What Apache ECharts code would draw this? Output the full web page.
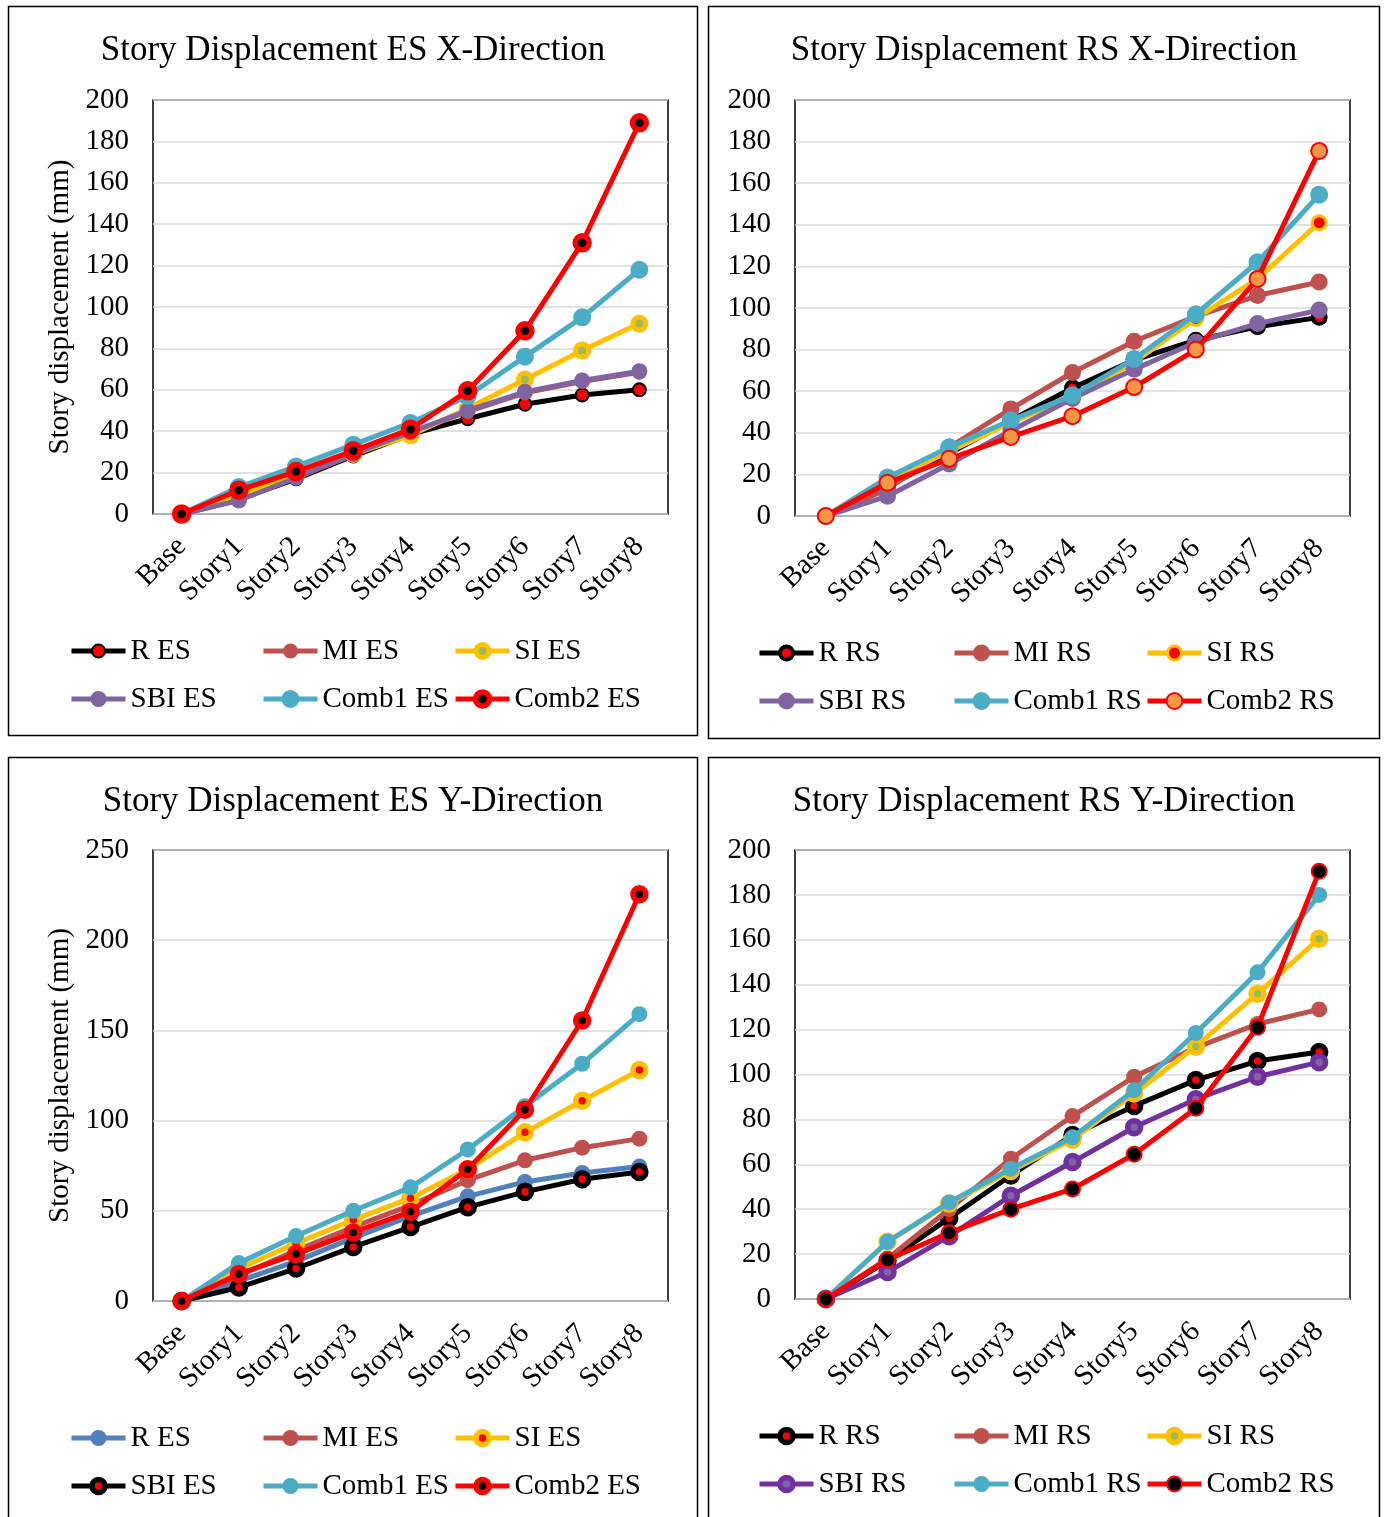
<!DOCTYPE html>
<html><head><meta charset="utf-8">
<script src="https://cdn.jsdelivr.net/npm/echarts@6/dist/echarts.min.js"></script>
<style>html,body{margin:0;padding:0;background:#fff;}.c{position:absolute;left:0;top:0;width:1384px;height:1517px;}</style>
</head><body>
<div id="c1" class="c"></div><div id="c2" class="c"></div><div id="c3" class="c"></div><div id="c4" class="c"></div>
<script>
// ---- data ----
const categories = ['Base','Story1','Story2','Story3','Story4','Story5','Story6','Story7','Story8'];

// Story Displacement ES X-Direction
const R_ES_X     = [0, 7, 17, 28, 38.5, 46, 53, 57.5, 60];
const MI_ES_X    = [0, 7.5, 17.5, 28.5, 39, 49.5, 58.5, 64, 68.5];
const SI_ES_X    = [0, 9, 19, 29, 38, 51, 65, 79, 92];
const SBI_ES_X   = [0, 6.5, 17.5, 29, 39.5, 50, 59, 64.5, 69];
const Comb1_ES_X = [0, 13, 23, 33.5, 44, 57, 76, 95, 118];
const Comb2_ES_X = [0, 11.5, 20.5, 30.5, 41, 59.5, 88.5, 131, 189];

// Story Displacement RS X-Direction
const R_RS_X     = [0, 14, 30, 46, 61.5, 75, 84.5, 91, 95.5];
const MI_RS_X    = [0, 13, 33, 51.5, 69, 84, 96, 106, 112.5];
const SI_RS_X    = [0, 17, 31, 45, 57, 74, 95, 114, 141];
const SBI_RS_X   = [0, 9.5, 25, 41, 56.5, 70.5, 83.5, 92.5, 99];
const Comb1_RS_X = [0, 18.5, 33, 46, 58, 75.5, 97, 122, 154.5];
const Comb2_RS_X = [0, 16, 27.5, 38, 48, 62, 80, 114, 175.5];

// Story Displacement ES Y-Direction
const R_ES_Y     = [0, 11, 22, 35, 47, 58, 66, 71, 74.5];
const MI_ES_Y    = [0, 14, 28, 41, 53, 67, 78, 85, 90];
const SI_ES_Y    = [0, 18, 32, 45, 57, 73, 93.5, 111, 128];
const SBI_ES_Y   = [0, 7.5, 18, 30, 41, 52, 60.5, 67.5, 71.5];
const Comb1_ES_Y = [0, 21, 36, 50, 63, 84, 108, 131.5, 159];
const Comb2_ES_Y = [0, 15, 26, 38, 49.5, 73, 106, 155.5, 225.5];

// Story Displacement RS Y-Direction
const R_RS_Y     = [0, 17, 36, 55, 73, 86, 97.5, 106, 110];
const MI_RS_Y    = [0, 18, 40, 62.5, 81.5, 99, 112, 122.5, 129];
const SI_RS_Y    = [0, 25.5, 42.5, 57, 71, 91.5, 112.5, 136, 160.5];
const SBI_RS_Y   = [0, 12, 28, 46, 61, 76.5, 89, 99, 105.5];
const Comb1_RS_Y = [0, 25.5, 43, 58, 72, 93, 118.5, 145.5, 180];
const Comb2_RS_Y = [0, 17.5, 29.5, 40, 49, 64.5, 85, 121, 190.5];

// ---- styles ----
const FONT = 'Liberation Serif';
const FS = 29;
const LW = 5;
function st(line, fill, stroke, bw, size) { return {line, fill, stroke, bw, size}; }

const panels = [
  { id:'c1', title:'Story Displacement ES X-Direction', tx:348, ttop:28,
    grid:{left:153, top:100, width:515, height:414}, max:200, interval:20, yName:'Story displacement (mm)',
    box:[8.5,6.5,689,729], cols:[69,261,453], rows:[651,699],
    series:[
      ['R ES', R_ES_X, st('#000000','#FF0000','#000000',2,13)],
      ['MI ES', MI_ES_X, st('#C0504D','#C0504D',null,0,15)],
      ['SI ES', SI_ES_X, st('#FFC000','#9BBB59','#FFC000',5,13)],
      ['SBI ES', SBI_ES_X, st('#8064A2','#8064A2',null,0,16)],
      ['Comb1 ES', Comb1_ES_X, st('#4BACC6','#4BACC6',null,0,18)],
      ['Comb2 ES', Comb2_ES_X, st('#FF0000','#000000','#FF0000',5.5,14)]
    ]},
  { id:'c2', title:'Story Displacement RS X-Direction', tx:1039, ttop:28,
    grid:{left:795, top:100, width:555, height:416}, max:200, interval:20, yName:'',
    box:[708.5,6.5,671,732], cols:[757,952,1145], rows:[653,701],
    series:[
      ['R RS', R_RS_X, st('#000000','#FF0000','#000000',4,13)],
      ['MI RS', MI_RS_X, st('#C0504D','#C0504D',null,0,17)],
      ['SI RS', SI_RS_X, st('#FFC000','#FF0000','#FFC000',3,14)],
      ['SBI RS', SBI_RS_X, st('#8064A2','#8064A2',null,0,17)],
      ['Comb1 RS', Comb1_RS_X, st('#4BACC6','#4BACC6',null,0,18)],
      ['Comb2 RS', Comb2_RS_X, st('#FF0000','#F79646','#FF0000',2,16)]
    ]},
  { id:'c3', title:'Story Displacement ES Y-Direction', tx:348, ttop:779,
    grid:{left:153, top:850, width:515, height:451}, max:250, interval:50, yName:'Story displacement (mm)',
    box:[8.5,757.5,689,770], cols:[69,261,453], rows:[1438,1486],
    series:[
      ['R ES', R_ES_Y, st('#4F81BD','#4F81BD',null,0,16)],
      ['MI ES', MI_ES_Y, st('#C0504D','#C0504D',null,0,16)],
      ['SI ES', SI_ES_Y, st('#FFC000','#FF0000','#FFC000',5.5,13)],
      ['SBI ES', SBI_ES_Y, st('#000000','#FF0000','#000000',5.5,13)],
      ['Comb1 ES', Comb1_ES_Y, st('#4BACC6','#4BACC6',null,0,16)],
      ['Comb2 ES', Comb2_ES_Y, st('#FF0000','#000000','#FF0000',5.5,13)]
    ]},
  { id:'c4', title:'Story Displacement RS Y-Direction', tx:1039, ttop:779,
    grid:{left:795, top:850, width:555, height:449}, max:200, interval:20, yName:'',
    box:[708.5,757.5,671,770], cols:[757,952,1145], rows:[1436,1484],
    series:[
      ['R RS', R_RS_Y, st('#000000','#FF0000','#000000',5.5,13)],
      ['MI RS', MI_RS_Y, st('#C0504D','#C0504D',null,0,16)],
      ['SI RS', SI_RS_Y, st('#FFC000','#9BBB59','#FFC000',5.5,13)],
      ['SBI RS', SBI_RS_Y, st('#7030A0','#8064A2','#7030A0',5.5,13)],
      ['Comb1 RS', Comb1_RS_Y, st('#4BACC6','#4BACC6',null,0,16)],
      ['Comb2 RS', Comb2_RS_Y, st('#FF0000','#000000','#FF0000',2,15)]
    ]}
];

panels.forEach(p => {
  const chart = echarts.init(document.getElementById(p.id), null, {renderer:'canvas'});
  const legends = p.series.map((s, i) => {
    const m = s[2];
    const ih = m.size / 0.8;
    const boxH = Math.max(ih, FS);
    return {
      data:[s[0]], selectedMode:false, padding:0,
      left: p.cols[i % 3], top: p.rows[Math.floor(i / 3)] - boxH / 2,
      itemWidth: 54, itemHeight: ih,
      textStyle:{fontFamily:FONT, fontSize:FS, color:'#000'},
      lineStyle:{width:LW, color:m.line},
      itemStyle:{color:m.fill, borderColor:m.stroke || m.fill, borderWidth:m.bw}
    };
  });
  const series = p.series.map((s, i) => {
    const m = s[2];
    return {
      name:s[0], type:'line', data:s[1], z: 3 + i,
      symbol:'circle', symbolSize:m.size, showSymbol:true,
      lineStyle:{color:m.line, width:LW},
      itemStyle:{color:m.fill, borderColor:m.stroke || m.fill, borderWidth:m.bw},
      emphasis:{disabled:true}, animation:false
    };
  });
  chart.setOption({
    backgroundColor:'transparent',
    animation:false,
    title:{text:p.title, left:p.tx, top:p.ttop, textAlign:'center',
      textStyle:{fontFamily:FONT, fontSize:35, fontWeight:'normal', color:'#000'}},
    grid:Object.assign({show:true, borderColor:'#000', borderWidth:1.5, backgroundColor:'transparent'}, p.grid),
    xAxis:{type:'category', data:categories, boundaryGap:true,
      axisLine:{show:false}, axisTick:{show:false},
      axisLabel:{rotate:45, interval:0, margin:28, fontFamily:FONT, fontSize:FS, color:'#000'}},
    yAxis:{type:'value', min:0, max:p.max, interval:p.interval,
      name:p.yName, nameLocation:'middle', nameGap:78, nameRotate:90,
      nameTextStyle:{fontFamily:FONT, fontSize:FS, color:'#000'},
      axisLine:{show:false}, axisTick:{show:false},
      axisLabel:{margin:24, fontFamily:FONT, fontSize:FS, color:'#000'},
      splitLine:{lineStyle:{color:'#D9D9D9', width:1.5}}},
    legend:legends,
    series:series,
    graphic:[{type:'rect', silent:true, z:0,
      shape:{x:p.box[0], y:p.box[1], width:p.box[2], height:p.box[3]},
      style:{fill:'none', stroke:'#000', lineWidth:1.5}}]
  });
});
</script>
</body></html>
